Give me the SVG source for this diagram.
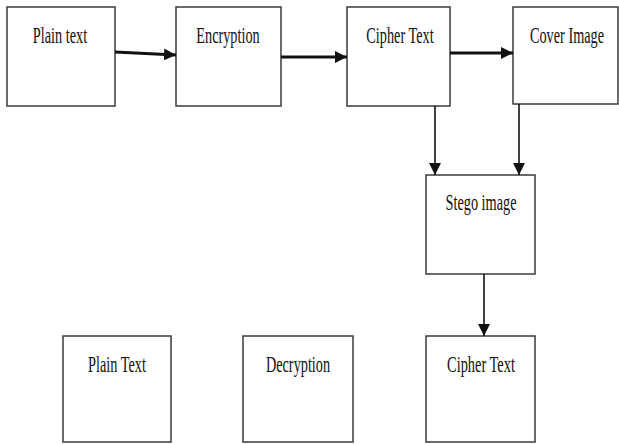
<svg xmlns="http://www.w3.org/2000/svg" width="619" height="444" viewBox="0 0 619 444">
<style>
.box{fill:#fff;stroke:#3a3a3a;stroke-width:1.5}
.lbl{font-family:"Liberation Serif","Times New Roman",serif;font-size:24px;fill:#111;text-anchor:middle}
.thick{stroke:#111;stroke-width:3;fill:none}
.thin{stroke:#111;stroke-width:1.6;fill:none}
</style>
<defs>
<marker id="ah" markerUnits="userSpaceOnUse" markerWidth="12" markerHeight="12" viewBox="0 0 10 10" refX="10" refY="5" orient="auto">
<path d="M0,0 L10,5 L0,10 z" fill="#111"/>
</marker>
</defs>
<rect width="619" height="444" fill="#fff"/>
<g id="n1"><rect class="box" x="7" y="7" width="108" height="99"/><text class="lbl" transform="translate(60,43) scale(0.595,1)">Plain text</text></g>
<g id="n2"><rect class="box" x="176" y="7" width="105" height="99"/><text class="lbl" transform="translate(228,43) scale(0.595,1)">Encryption</text></g>
<g id="n3"><rect class="box" x="347" y="7" width="103" height="99"/><text class="lbl" transform="translate(400,43) scale(0.595,1)">Cipher Text</text></g>
<g id="n4"><rect class="box" x="513" y="7" width="105" height="97"/><text class="lbl" transform="translate(567,43) scale(0.595,1)">Cover Image</text></g>
<g id="n5"><rect class="box" x="426" y="175" width="109" height="99"/><text class="lbl" transform="translate(481,210) scale(0.595,1)">Stego image</text></g>
<g id="n6"><rect class="box" x="63" y="336" width="108" height="106"/><text class="lbl" transform="translate(117,372) scale(0.595,1)">Plain Text</text></g>
<g id="n7"><rect class="box" x="243" y="336" width="110" height="106"/><text class="lbl" transform="translate(298,372) scale(0.595,1)">Decryption</text></g>
<g id="n8"><rect class="box" x="426" y="336" width="109" height="106"/><text class="lbl" transform="translate(481,372) scale(0.6,1)">Cipher Text</text></g>
<g id="connectors">
<line class="thick" x1="115" y1="52" x2="176" y2="55" marker-end="url(#ah)"/>
<line class="thick" x1="281" y1="57" x2="347" y2="57" marker-end="url(#ah)"/>
<line class="thick" x1="450" y1="53" x2="513" y2="53" marker-end="url(#ah)"/>
<line class="thin" x1="435" y1="106" x2="435" y2="175" marker-end="url(#ah)"/>
<line class="thin" x1="519" y1="104" x2="519" y2="175" marker-end="url(#ah)"/>
<line class="thin" x1="484" y1="274" x2="484" y2="336" marker-end="url(#ah)"/>
</g>
</svg>
